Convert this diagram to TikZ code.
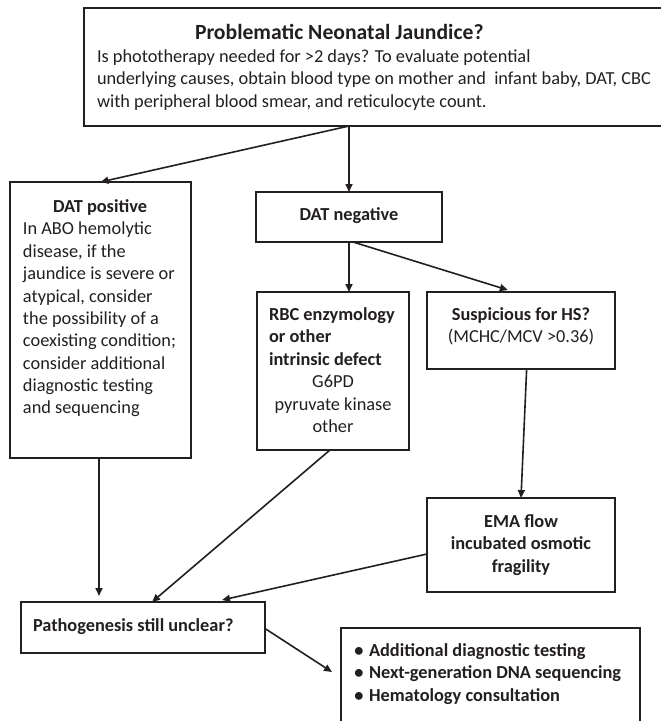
\documentclass[tikz,border=0pt]{standalone}
\usepackage{fontspec}
\setmainfont{Carlito}
\usetikzlibrary{arrows.meta,calc}
\definecolor{ink}{HTML}{231F20}
\tikzset{
  box/.style={draw=ink, line width=2pt, inner sep=0pt, outer sep=0pt, anchor=north west},
  arr/.style={draw=ink, line width=1.6pt, -{Triangle[length=8pt,width=7pt]}},
  txt/.style={inner sep=0pt, outer sep=0pt, text=ink, font=\fontsize{18.33}{22.38}\selectfont, anchor=base},
  txtl/.style={txt, anchor=base west},
  bf/.style={font=\bfseries\fontsize{18.33}{22.38}\selectfont}
}
\begin{document}
\begin{tikzpicture}[x=1pt, y=-1pt]
\useasboundingbox (0,0) rectangle (661,721);
\clip (0,0) rectangle (661,721);
\fill[white] (0,0) rectangle (661,721);
% boxes
\node[box, minimum width=586pt, minimum height=118pt] (top) at (84,8) {};
\node[box, minimum width=181pt, minimum height=276pt] (datpos) at (10,182) {};
\node[box, minimum width=186pt, minimum height=50pt] (datneg) at (256,192) {};
\node[box, minimum width=152pt, minimum height=158pt] (rbc) at (257,292) {};
\node[box, minimum width=188pt, minimum height=77pt] (hs) at (427,292) {};
\node[box, minimum width=188pt, minimum height=94pt] (ema) at (427,498) {};
\node[box, minimum width=244pt, minimum height=51pt] (patho) at (21,602) {};
\node[box, minimum width=299pt, minimum height=110pt] (bul) at (341,628) {};
% top box text
\node[txtl, font=\bfseries\fontsize{21.67}{26}\selectfont] (ttl) at (195,39) {Problematic Neonatal Jaundice?};
\node[txtl] (tl1) at (97,62.5) {Is phototherapy needed for >2 days? To evaluate potential};
\node[txtl] (tl2) at (97,84.9) {underlying causes, obtain blood type on mother and\ \ infant baby, DAT, CBC};
\node[txtl] (tl3) at (97,107.3) {with peripheral blood smear, and reticulocyte count.};
% DAT positive
\node[txt, bf] (dpt) at (100,212.5) {DAT positive};
\foreach \t [count=\i] in {{In ABO hemolytic},{disease, if the},{jaundice is severe or},{atypical, consider},{the possibility of a},{coexisting condition;},{consider additional},{diagnostic testing},{and sequencing}}
  \node[txtl] (dp\i) at (23,{212.5+22.38*\i}) {\t};
% DAT negative
\node[txt, bf] (dnt) at (349,220.5) {DAT negative};
% RBC
\node[txtl, bf] (r1) at (269,320.5) {RBC enzymology};
\node[txtl, bf] (r2) at (269,342.9) {or other};
\node[txtl, bf] (r3) at (269,365.3) {intrinsic defect};
\node[txt] (r4) at (333,387.6) {G6PD};
\node[txt] (r5) at (333,410) {pyruvate kinase};
\node[txt] (r6) at (333,432.4) {other};
% HS
\node[txt, bf] (h1) at (521,320.5) {Suspicious for HS?};
\node[txt] (h2) at (521,342.9) {(MCHC/MCV >0.36)};
% EMA
\node[txt, bf] (e1) at (521,527.5) {EMA flow};
\node[txt, bf] (e2) at (521,549.9) {incubated osmotic};
\node[txt, bf] (e3) at (521,572.3) {fragility};
% Pathogenesis
\node[txtl, bf] (p1) at (33,631.5) {Pathogenesis still unclear?};
% bullets
\foreach \t [count=\i] in {{Additional diagnostic testing},{Next-generation DNA sequencing},{Hematology consultation}}{
  \node[txt, bf] (b\i) at (359,{634.1+22.38*\i}) {\textbullet};
  \node[txtl, bf] (bt\i) at (369,{634.1+22.38*\i}) {\t};
}
% connectors
\coordinate (split) at (datneg.north |- top.south);
\draw[arr] (split) -- (datneg.north);
\draw[arr] (split) -- (datpos.north);
\draw[arr] (datneg.south) -- (datneg.south |- rbc.north);
\draw[arr] ($(datneg.south)+(4,0)$) -- ($(hs.north west)!0.43!(hs.north east)+(0,-2)$);
\draw[arr] ($(rbc.south west)!0.48!(rbc.south east)$) -- ($(patho.north west)!0.537!(patho.north east)$);
\draw[arr] ($(hs.south west)!0.53!(hs.south east)$) -- (ema.north);
\draw[arr] ($(datpos.south)+(-1.5,0)$) -- ($(datpos.south |- patho.north)+(-1.5,-6)$);
\draw[arr] ($(ema.west)+(0,9)$) -- ($(patho.north west)!0.824!(patho.north east)+(0,-2)$);
\draw[arr] ($(patho.east)+(0,1)$) -- ($(bul.north west)+(-9,44)$);
\end{tikzpicture}
\end{document}
